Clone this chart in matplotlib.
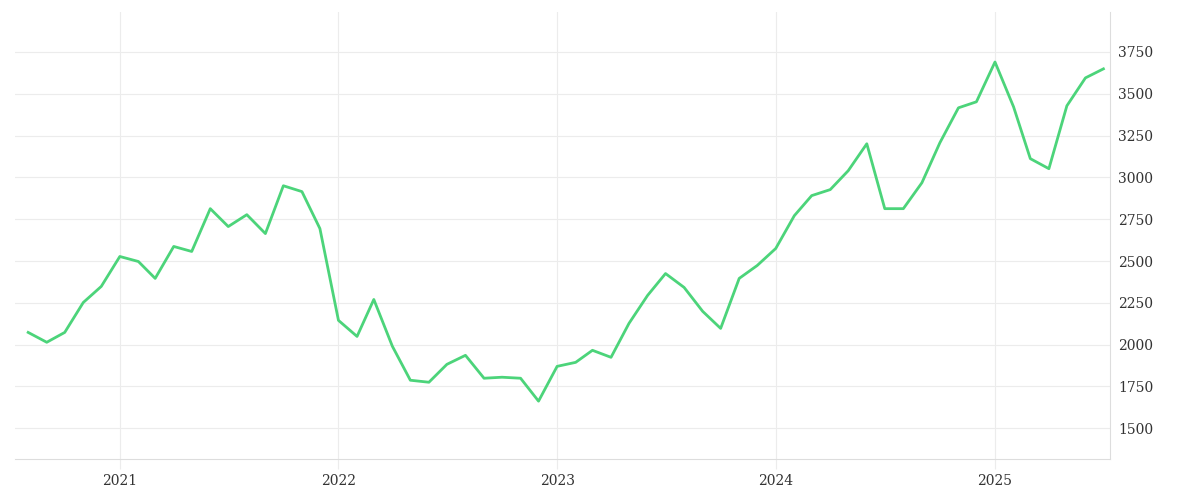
import matplotlib.pyplot as plt
import pandas as pd

months = pd.date_range('2020-08-01', periods=60, freq='MS')
values = [2073, 2014, 2073, 2252, 2348, 2527, 2497, 2396, 2587, 2557,
          2813, 2706, 2777, 2664, 2950, 2915, 2694, 2145, 2049, 2270,
          1990, 1787, 1775, 1882, 1936, 1799, 1805, 1799, 1662, 1870,
          1894, 1966, 1924, 2127, 2294, 2425, 2342, 2199, 2097, 2396,
          2473, 2575, 2771, 2891, 2927, 3040, 3201, 2813, 2813, 2968,
          3207, 3416, 3452, 3690, 3422, 3112, 3052, 3428, 3595, 3649]
yticks = [1500, 1750, 2000, 2250, 2500, 2750, 3000, 3250, 3500, 3750]
year_ticks = pd.to_datetime(['2021-01-01', '2022-01-01', '2023-01-01', '2024-01-01', '2025-01-01'])

fig, ax = plt.subplots(figsize=(12, 5), dpi=100)
fig.subplots_adjust(left=0.0125, right=0.925, top=0.976, bottom=0.082)
ax.plot(months, values, color='#4cd47a', lw=2)

ax.set_xlim(pd.Timestamp('2020-07-10'), pd.Timestamp('2025-07-12'))
ax.set_ylim(1316, 3989)
ax.yaxis.tick_right()
ax.set_yticks(yticks)
ax.set_xticks(year_ticks)
ax.set_xticklabels([str(d.year) for d in year_ticks])
ax.grid(color='#ececec', lw=0.8)
for s in ['top', 'left']:
    ax.spines[s].set_visible(False)
ax.spines['right'].set_color('#dddddd')
ax.spines['bottom'].set_color('#dddddd')
ax.tick_params(length=0, labelsize=10, colors='#333333', pad=6)
ax.tick_params(axis='x', length=7, color='#ececec', pad=4)
for lab in ax.get_xticklabels() + ax.get_yticklabels():
    lab.set_fontfamily('DejaVu Serif')

fig.savefig('out.png')
